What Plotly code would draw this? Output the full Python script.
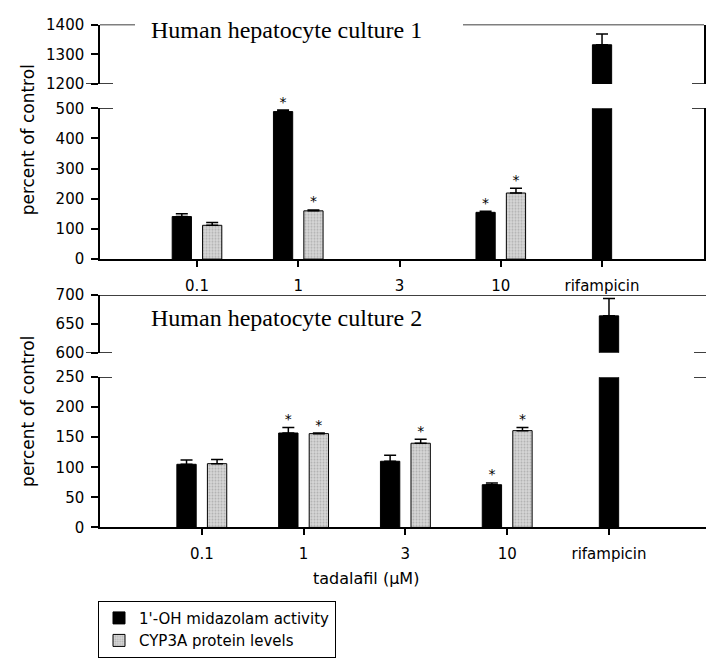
import plotly.graph_objects as go

# ---------------- data ----------------
categories = ["0.1", "1", "3", "10", "rifampicin"]
series_names = ["1'-OH midazolam activity", "CYP3A protein levels"]

# Human hepatocyte culture 1
c1_mdz = [141, 489, None, 155, 1332]
c1_mdz_err = [9, 5, None, 4, 36]
c1_cyp = [112, 160, None, 219, None]
c1_cyp_err = [9, 3, None, 16, None]
c1_mdz_sig = [False, True, False, True, False]
c1_cyp_sig = [False, True, False, True, False]

# Human hepatocyte culture 2
c2_mdz = [105, 157, 110, 71, 664]
c2_mdz_err = [7, 9, 10, 3, 30]
c2_cyp = [106, 156, 140, 161, None]
c2_cyp_err = [7, 1, 6.5, 5, None]
c2_mdz_sig = [False, True, False, True, False]
c2_cyp_sig = [False, True, True, True, False]

# axis tick values
c1_low_ticks = [0, 100, 200, 300, 400, 500]
c1_high_ticks = [1200, 1300, 1400]
c2_low_ticks = [0, 50, 100, 150, 200, 250]
c2_high_ticks = [600, 650, 700]

# ---------------- geometry helpers ----------------
W, H = 706, 670
ML, MR = 100, 0
PW = W - ML - MR


def py(p):
    return 1 - p / H


def px(p):
    return (p - ML) / PW


BAR_W = 0.19
OFF = 0.15
n = len(categories)
idx = list(range(n))
x_black = [i if categories[i] == "rifampicin" else i - OFF for i in idx]
x_gray = [i + OFF for i in idx]

BLACK = "#000000"
GRAY = "#c4c4c4"
FONT = "DejaVu Sans"

fig = go.Figure()


def add_bars(xa, ya, mdz, mdz_err, cyp, cyp_err, legend):
    fig.add_trace(go.Bar(
        x=x_black, y=mdz, width=BAR_W, name=series_names[0],
        marker=dict(color=BLACK, line=dict(color=BLACK, width=1)),
        error_y=dict(type="data", symmetric=False, array=mdz_err,
                     arrayminus=[0] * n, color=BLACK, thickness=1.5, width=6),
        xaxis=xa, yaxis=ya, showlegend=legend, legendrank=1))
    fig.add_trace(go.Bar(
        x=x_gray, y=cyp, width=BAR_W, name=series_names[1],
        marker=dict(color=GRAY, line=dict(color=BLACK, width=1),
                    pattern=dict(shape=".", fgcolor="#8a8a8a", bgcolor="#d6d6d6",
                                 size=3, solidity=0.35)),
        error_y=dict(type="data", symmetric=False, array=cyp_err,
                     arrayminus=[0] * n, color=BLACK, thickness=1.5, width=6),
        xaxis=xa, yaxis=ya, showlegend=legend, legendrank=2))


def add_stars(xa, ya, xs, vals, errs, sig):
    sx, sy = [], []
    for x, v, e, s in zip(xs, vals, errs, sig):
        if s and v is not None:
            sx.append(x)
            sy.append(v + (e or 0))
    fig.add_trace(go.Scatter(
        x=sx, y=sy, mode="text", text=["*"] * len(sx), textposition="top center",
        textfont=dict(family=FONT, size=14, color=BLACK), cliponaxis=False,
        xaxis=xa, yaxis=ya, showlegend=False, hoverinfo="skip"))


# culture 1: lower (x,y) & upper (x3,y3)
add_bars("x", "y", c1_mdz, c1_mdz_err, c1_cyp, c1_cyp_err, True)
add_bars("x3", "y3", c1_mdz, c1_mdz_err, c1_cyp, c1_cyp_err, False)
add_stars("x", "y", x_black, c1_mdz, c1_mdz_err, c1_mdz_sig)
add_stars("x", "y", x_gray, c1_cyp, c1_cyp_err, c1_cyp_sig)

# culture 2: lower (x2,y2) & upper (x4,y4)
add_bars("x2", "y2", c2_mdz, c2_mdz_err, c2_cyp, c2_cyp_err, False)
add_bars("x4", "y4", c2_mdz, c2_mdz_err, c2_cyp, c2_cyp_err, False)
add_stars("x2", "y2", x_black, c2_mdz, c2_mdz_err, c2_mdz_sig)
add_stars("x2", "y2", x_gray, c2_cyp, c2_cyp_err, c2_cyp_sig)

LW = 1.5
tickfont = dict(family=FONT, size=15, color=BLACK)

top_xdom = [0, px(704)]
bot_xdom = [0, 1]
r1 = [-0.958, 5.007]
r2 = [-1.0, 4.953]

xcommon = dict(showline=True, linecolor=BLACK, linewidth=LW, ticks="outside",
               ticklen=6, tickwidth=LW, tickcolor=BLACK, tickvals=idx,
               ticktext=categories, tickfont=tickfont, showgrid=False,
               zeroline=False, ticklabelstandoff=6)
ycommon = dict(showline=True, linecolor=BLACK, linewidth=LW, ticks="outside",
               ticklen=7, tickwidth=LW, tickcolor=BLACK, tickfont=tickfont,
               showgrid=False, zeroline=False, ticklabelstandoff=4)

fig.update_layout(
    width=W, height=H,
    margin=dict(l=ML, r=MR, t=0, b=0),
    paper_bgcolor="white", plot_bgcolor="white",
    barmode="overlay",
    xaxis=dict(domain=top_xdom, range=r1, anchor="y", **xcommon),
    yaxis=dict(domain=[py(257), py(102)], range=[0, 500], anchor="x",
               tickvals=c1_low_ticks, mirror=True, **ycommon),
    xaxis3=dict(domain=top_xdom, range=r1, anchor="y3", visible=False),
    yaxis3=dict(domain=[py(77), py(16)], range=[1200, 1400], anchor="x3",
                tickvals=c1_high_ticks, mirror=True, **ycommon),
    xaxis2=dict(domain=bot_xdom, range=r2, anchor="y2", **xcommon),
    yaxis2=dict(domain=[py(532.7), py(378.3)], range=[0, 250], anchor="x2",
                tickvals=c2_low_ticks, **ycommon),
    xaxis4=dict(domain=bot_xdom, range=r2, anchor="y4", visible=False),
    yaxis4=dict(domain=[py(353.3), py(294)], range=[600, 700], anchor="x4",
                tickvals=c2_high_ticks, **ycommon),
    legend=dict(x=px(98), y=py(608), xanchor="left", yanchor="top",
                bordercolor=BLACK, borderwidth=1, bgcolor="white",
                font=dict(family=FONT, size=15, color=BLACK),
                traceorder="normal", entrywidth=212, entrywidthmode="pixels"),
    showlegend=True,
)

shapes = []
line = dict(color=BLACK, width=LW)
# top frame line of culture 1 (interrupted by title)
shapes.append(dict(type="line", xref="paper", yref="y3", x0=px(100), x1=px(135),
                   y0=c1_high_ticks[-1], y1=c1_high_ticks[-1], line=line))
shapes.append(dict(type="line", xref="paper", yref="y3", x0=px(463), x1=px(704),
                   y0=c1_high_ticks[-1], y1=c1_high_ticks[-1], line=line))
# break marks culture 1
shapes.append(dict(type="line", xref="paper", yref="y3", x0=px(86), x1=px(113),
                   y0=c1_high_ticks[0], y1=c1_high_ticks[0], line=line))
shapes.append(dict(type="line", xref="paper", yref="y", x0=px(100), x1=px(113),
                   y0=c1_low_ticks[-1], y1=c1_low_ticks[-1], line=line))
shapes.append(dict(type="line", xref="paper", yref="y3", x0=px(692), x1=px(704),
                   y0=c1_high_ticks[0], y1=c1_high_ticks[0], line=line))
shapes.append(dict(type="line", xref="paper", yref="y", x0=px(692), x1=px(704),
                   y0=c1_low_ticks[-1], y1=c1_low_ticks[-1], line=line))
# top frame line culture 2
shapes.append(dict(type="line", xref="paper", yref="y4", x0=px(100), x1=px(706),
                   y0=c2_high_ticks[-1], y1=c2_high_ticks[-1], line=line))
# break marks culture 2
shapes.append(dict(type="line", xref="paper", yref="y4", x0=px(86), x1=px(112),
                   y0=c2_high_ticks[0], y1=c2_high_ticks[0], line=line))
shapes.append(dict(type="line", xref="paper", yref="y2", x0=px(100), x1=px(112),
                   y0=c2_low_ticks[-1], y1=c2_low_ticks[-1], line=line))
shapes.append(dict(type="line", xref="paper", yref="y4", x0=px(694), x1=px(706),
                   y0=c2_high_ticks[0], y1=c2_high_ticks[0], line=line))
shapes.append(dict(type="line", xref="paper", yref="y2", x0=px(694), x1=px(706),
                   y0=c2_low_ticks[-1], y1=c2_low_ticks[-1], line=line))
fig.update_layout(shapes=shapes)

annotations = [
    dict(text="Human hepatocyte culture 1", xref="paper", yref="paper",
         x=px(149), y=py(22), xanchor="left", yanchor="middle", showarrow=False,
         font=dict(family="Liberation Serif", size=24, color=BLACK)),
    dict(text="Human hepatocyte culture 2", xref="paper", yref="paper",
         x=px(149), y=py(318), xanchor="left", yanchor="middle", showarrow=False,
         font=dict(family="Liberation Serif", size=24, color=BLACK)),
    dict(text="percent of control", xref="paper", yref="paper", textangle=-90,
         x=px(28), y=py(135), xanchor="center", yanchor="middle", showarrow=False,
         font=dict(family=FONT, size=17, color=BLACK)),
    dict(text="percent of control", xref="paper", yref="paper", textangle=-90,
         x=px(28), y=py(414), xanchor="center", yanchor="middle", showarrow=False,
         font=dict(family=FONT, size=17, color=BLACK)),
    dict(text="tadalafil (\u03bcM)", xref="paper", yref="paper",
         x=px(366), y=py(585), xanchor="center", yanchor="middle", showarrow=False,
         font=dict(family=FONT, size=16, color=BLACK)),
]
fig.update_layout(annotations=annotations)

fig.write_html("out.html")
